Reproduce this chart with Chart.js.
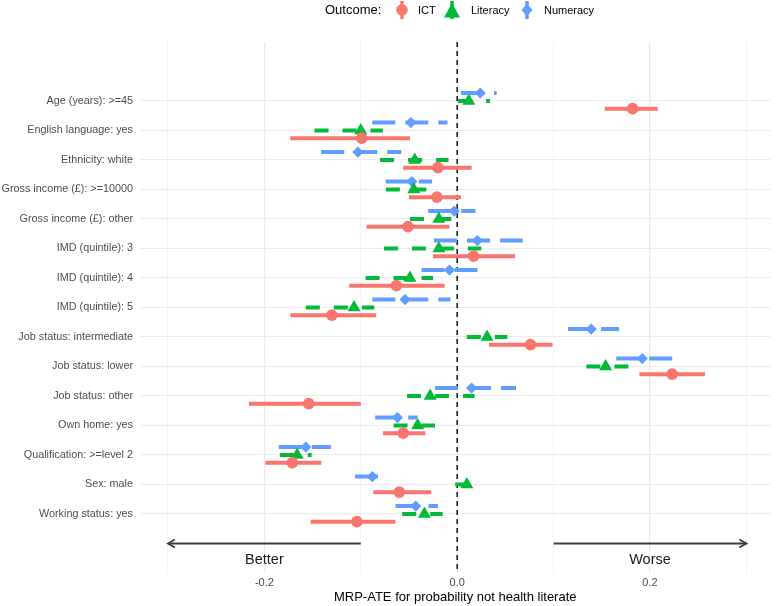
<!DOCTYPE html>
<html>
<head>
<meta charset="utf-8">
<script src="https://cdn.jsdelivr.net/npm/chart.js@4/dist/chart.umd.min.js"></script>
<style>
  html, body { margin: 0; padding: 0; background: #fff; }
  #wrap { position: relative; width: 778px; height: 606px; }
  #legend { position: absolute; top: 0; left: 0; width: 778px; height: 21px; font-family: "Liberation Sans", Arial, sans-serif; color: #000; }
  #legend > * { position: absolute; top: 0; }
  #legend span { line-height: 20px; font-size: 11px; white-space: nowrap; }
  #legend span.title { font-size: 13px; }
</style>
</head>
<body>
<div id="wrap">
  <canvas id="chart" width="778" height="606"></canvas>
  <div id="legend">
    <span class="title" style="left:325px">Outcome:</span>
    <svg style="left:395px" width="14" height="20"><line x1="7" y1="1" x2="7" y2="19" stroke="#F8766D" stroke-width="3.5"/><circle cx="7" cy="10" r="5.8" fill="#F8766D"/></svg>
    <span style="left:418px">ICT</span>
    <svg style="left:443px" width="18" height="20"><line x1="9" y1="1" x2="9" y2="19" stroke="#00BA38" stroke-width="3.5"/><polygon points="9,3 17,17.5 1,17.5" fill="#00BA38"/></svg>
    <span style="left:471px">Literacy</span>
    <svg style="left:520px" width="14" height="20"><line x1="7" y1="1" x2="7" y2="19" stroke="#619CFF" stroke-width="3.5"/><polygon points="7,3.5 12.5,10 7,16.5 1.5,10" fill="#619CFF"/></svg>
    <span style="left:544px">Numeracy</span>
  </div>
</div>
<script>
// Categories (top to bottom)
const categories = [
    'Age (years): >=45',
    'English language: yes',
    'Ethnicity: white',
    'Gross income (£): >=10000',
    'Gross income (£): other',
    'IMD (quintile): 3',
    'IMD (quintile): 4',
    'IMD (quintile): 5',
    'Job status: intermediate',
    'Job status: lower',
    'Job status: other',
    'Own home: yes',
    'Qualification: >=level 2',
    'Sex: male',
    'Working status: yes'
];

// ICT
const ictEst = [0.182, -0.099, -0.020, -0.021, -0.051, 0.017, -0.063, -0.130, 0.076, 0.223, -0.154, -0.056, -0.171, -0.060, -0.104];
const ictLo  = [0.153, -0.173, -0.056, -0.050, -0.094, -0.025, -0.112, -0.173, 0.033, 0.189, -0.216, -0.077, -0.199, -0.087, -0.152];
const ictHi  = [0.208, -0.049, 0.015, 0.004, -0.008, 0.060, -0.013, -0.084, 0.099, 0.257, -0.100, -0.033, -0.141, -0.027, -0.064];

// Literacy
const litEst = [0.012, -0.100, -0.044, -0.045, -0.019, -0.019, -0.049, -0.107, 0.031, 0.154, -0.028, -0.041, -0.166, 0.010, -0.034];
const litLo  = [0.001, -0.148, -0.080, -0.074, -0.049, -0.076, -0.095, -0.157, 0.010, 0.134, -0.052, -0.066, -0.184, -0.002, -0.057];
const litHi  = [0.034, -0.077, -0.009, -0.032, -0.006, 0.025, -0.025, -0.086, 0.052, 0.192, 0.018, -0.023, -0.151, 0.018, -0.015];

// Numeracy
const numEst = [0.024, -0.048, -0.103, -0.047, -0.003, 0.021, -0.008, -0.054, 0.139, 0.192, 0.015, -0.062, -0.157, -0.088, -0.043];
const numLo  = [0.004, -0.088, -0.141, -0.074, -0.030, -0.024, -0.037, -0.088, 0.115, 0.165, -0.023, -0.085, -0.185, -0.106, -0.064];
const numHi  = [0.041, -0.010, -0.058, -0.026, 0.019, 0.068, 0.024, -0.007, 0.168, 0.225, 0.061, -0.041, -0.131, -0.081, -0.020];

// x ticks
const xTicks = [-0.3, -0.2, -0.1, 0, 0.1, 0.2, 0.3];
const xTickLabels = ['', '-0.2', '', '0.0', '', '0.2', ''];

// direction arrows under the panel
const arrowSpans = [[-0.1, -0.3], [0.1, 0.3]];
const arrowRow = 15;
const directionLabels = ['Better', 'Worse'];
const directionX = [-0.2, 0.2];
const directionRow = 15.56;

const FONT = '"Liberation Sans", Arial, Helvetica, sans-serif';
Chart.defaults.font.family = FONT;

const colors = { ict: '#F8766D', lit: '#00BA38', num: '#619CFF' };
const dodge = { ict: 0.26, lit: 0, num: -0.27 };

function points(est, off) {
    return est.map((v, i) => ({ x: v, y: i + off }));
}

// one segment per category, broken by null points
function ranges(lo, hi, off) {
    const out = [];
    lo.forEach((v, i) => {
        out.push({ x: v, y: i + off }, { x: hi[i], y: i + off }, { x: null, y: null });
    });
    return out;
}

function rangeSet(label, lo, hi, off, color, dash) {
    return {
        label: label,
        data: ranges(lo, hi, off),
        showLine: true,
        borderColor: color,
        borderWidth: 4,
        borderDash: dash,
        borderCapStyle: 'butt',
        pointRadius: 0,
        pointHoverRadius: 0,
        spanGaps: false,
        order: 2
    };
}

function pointSet(label, est, off, color, style, r) {
    return {
        label: label,
        data: points(est, off),
        backgroundColor: color,
        borderColor: color,
        borderWidth: 0,
        pointStyle: style,
        pointRadius: r,
        pointHoverRadius: r,
        order: 1
    };
}

// zero line, arrows and Better / Worse
const annotations = {
    id: 'annotations',
    beforeDatasetsDraw(chart) {
        const { ctx, chartArea, scales: { x } } = chart;
        const x0 = x.getPixelForValue(0);
        ctx.save();
        ctx.strokeStyle = '#000';
        ctx.lineWidth = 1.4;
        ctx.setLineDash([5, 4]);
        ctx.beginPath();
        ctx.moveTo(x0, chartArea.top);
        ctx.lineTo(x0, chartArea.bottom);
        ctx.stroke();
        ctx.restore();
    },
    afterDatasetsDraw(chart) {
        const { ctx, scales: { x, y } } = chart;
        const yp = y.getPixelForValue(arrowRow);
        ctx.save();
        ctx.strokeStyle = '#3d3d3d';
        ctx.lineWidth = 1.8;
        arrowSpans.forEach(([from, to]) => {
            const x1 = x.getPixelForValue(from);
            const x2 = x.getPixelForValue(to);
            const dir = Math.sign(x2 - x1);
            ctx.beginPath();
            ctx.moveTo(x1, yp);
            ctx.lineTo(x2, yp);
            ctx.stroke();
            ctx.beginPath();
            ctx.moveTo(x2 - dir * 7, yp - 4);
            ctx.lineTo(x2, yp);
            ctx.lineTo(x2 - dir * 7, yp + 4);
            ctx.stroke();
        });
        ctx.fillStyle = '#1a1a1a';
        ctx.font = '14.5px ' + FONT;
        ctx.textAlign = 'center';
        ctx.textBaseline = 'middle';
        directionLabels.forEach((t, i) => {
            ctx.fillText(t, x.getPixelForValue(directionX[i]), y.getPixelForValue(directionRow));
        });
        ctx.restore();
    }
};

new Chart(document.getElementById('chart'), {
    type: 'scatter',
    data: {
        datasets: [
            pointSet('ICT', ictEst, dodge.ict, colors.ict, 'circle', 5.8),
            pointSet('Literacy', litEst, dodge.lit, colors.lit, 'triangle', 7.5),
            pointSet('Numeracy', numEst, dodge.num, colors.num, 'rectRot', 5.6),
            rangeSet('ICT range', ictLo, ictHi, dodge.ict, colors.ict, []),
            rangeSet('Literacy range', litLo, litHi, dodge.lit, colors.lit, [14, 14]),
            rangeSet('Numeracy range', numLo, numHi, dodge.num, colors.num, [23, 10])
        ]
    },
    options: {
        responsive: false,
        animation: false,
        devicePixelRatio: 1,
        layout: { padding: { top: 42, right: 6, left: 0, bottom: 0 } },
        plugins: {
            legend: { display: false },
            tooltip: { enabled: false }
        },
        scales: {
            x: {
                type: 'linear',
                min: -0.329,
                max: 0.325,
                afterBuildTicks: (s) => { s.ticks = xTicks.map(v => ({ value: v })); },
                afterFit: (s) => { s.height = 33; },
                ticks: {
                    callback: (v, i) => xTickLabels[i],
                    color: '#4D4D4D',
                    font: { size: 11 },
                    padding: 3,
                    maxRotation: 0,
                    autoSkip: false
                },
                grid: {
                    drawTicks: false,
                    color: (c) => (c.index % 2 === 1 ? '#EBEBEB' : '#F4F4F4'),
                    lineWidth: (c) => (c.index % 2 === 1 ? 1.2 : 1)
                },
                border: { display: false },
                title: {
                    display: true,
                    text: 'MRP-ATE for probability not health literate',
                    color: '#000',
                    font: { size: 13 },
                    padding: { top: 0, bottom: 1 }
                }
            },
            y: {
                type: 'linear',
                reverse: true,
                min: -2,
                max: 16,
                afterBuildTicks: (s) => { s.ticks = categories.map((c, i) => ({ value: i })); },
                afterFit: (s) => { s.width = 140; },
                ticks: {
                    callback: (v) => categories[v] ?? '',
                    color: '#4D4D4D',
                    font: { size: 10.8 },
                    padding: 7,
                    autoSkip: false
                },
                grid: { drawTicks: false, color: '#EBEBEB', lineWidth: 1.1 },
                border: { display: false }
            }
        }
    },
    plugins: [annotations]
});
</script>
</body>
</html>
